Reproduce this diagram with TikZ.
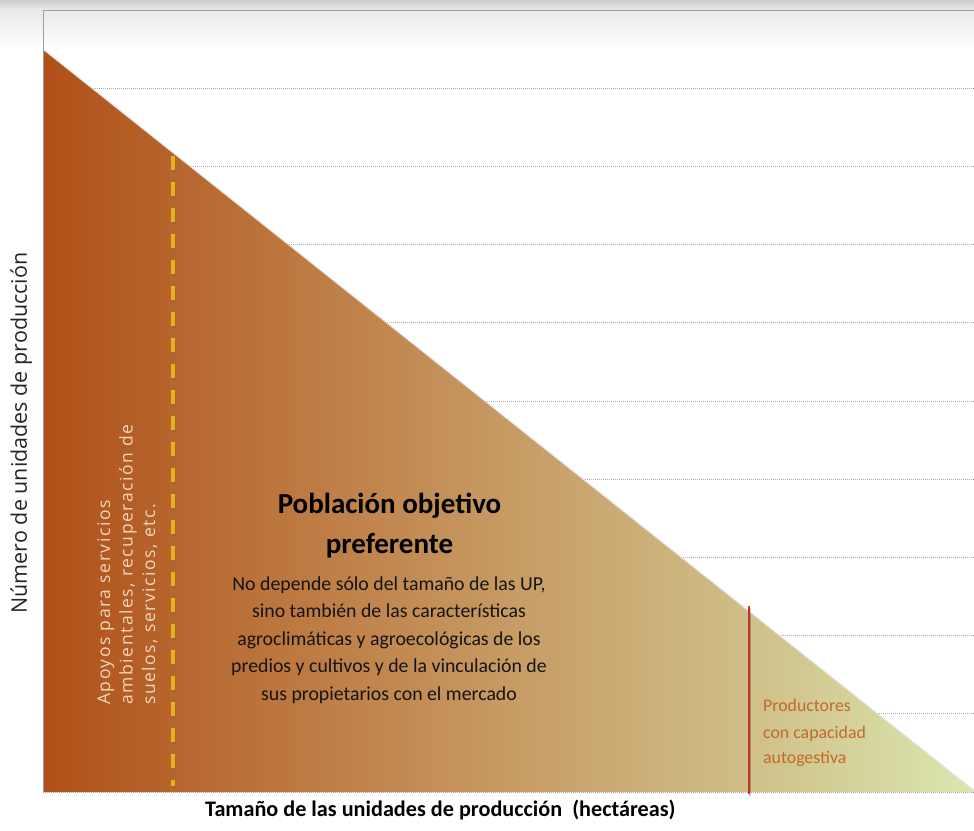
\documentclass[tikz,border=0pt]{standalone}
\usepackage{fontspec}
\setmainfont{Carlito}
\newfontfamily\osans{Open Sans}
\newfontfamily\osansls[LetterSpace=9]{Open Sans}
\usetikzlibrary{calc}
\definecolor{gA}{RGB}{175,80,24}
\definecolor{gB}{RGB}{188,118,62}
\definecolor{gC}{RGB}{199,155,100}
\definecolor{gD}{RGB}{207,190,135}
\definecolor{gE}{RGB}{218,232,176}
\definecolor{dashyel}{RGB}{234,176,24}
\definecolor{redline}{RGB}{200,50,40}
\definecolor{prodtxt}{RGB}{196,104,44}
\definecolor{creamtxt}{RGB}{240,214,186}
\pgfdeclarehorizontalshading{trishade}{100bp}{color(0bp)=(gA); color(25bp)=(gA); color(37.5bp)=(gB); color(50bp)=(gC); color(62.5bp)=(gD); color(75bp)=(gE); color(100bp)=(gE)}
\tikzset{
  grid line/.style={draw=gray!65, line width=0.8pt, dash pattern=on 1pt off 1pt},
  frame line/.style={draw=gray!75, line width=0.9pt},
  yeldash/.style={draw=dashyel, line width=3.2pt, dash pattern=on 14pt off 12pt},
  yelshadow/.style={draw=black!60, opacity=0.35, line width=3.2pt, dash pattern=on 14pt off 12pt},
  redbar/.style={draw=redline, line width=2.8pt},
  ylabel/.style={font=\osans\fontsize{21.5}{26}\selectfont, text=black!85, inner sep=0pt, rotate=90, anchor=base},
  apoyo/.style={font=\osansls\fontsize{17.5}{22}\selectfont, text=creamtxt, inner sep=0pt, rotate=90, anchor=base west},
  title/.style={font=\bfseries\fontsize{29}{34}\selectfont, text=black, inner sep=0pt, anchor=base},
  body/.style={font=\fontsize{19.8}{24}\selectfont, text=black!92, inner sep=0pt, anchor=base},
  prod/.style={font=\fontsize{17.8}{22}\selectfont, text=prodtxt, inner sep=0pt, anchor=base west},
  xlabel/.style={font=\bfseries\fontsize{22.2}{26}\selectfont, text=black, inner sep=0pt, anchor=base west},
}
\begin{document}
\begin{tikzpicture}[x=1pt,y=-1pt]
\useasboundingbox (0,0) rectangle (974,830);
\fill[white] (0,0) rectangle (974,830);
% top shadow band
\shade[top color=gray!22, bottom color=white] (0,0) rectangle (974,48);
\shade[top color=gray!40, bottom color=gray!20] (0,0) rectangle (974,8);
% grid lines
\foreach \k in {1,...,9} {
  \draw[grid line] (43,{10+78.2*\k}) -- (974,{10+78.2*\k});
}
% frame
\draw[frame line] (43,10) -- (974,10);
\draw[frame line] (43,10) -- (43,792);
% triangle
\coordinate (apex) at (44,50);
\coordinate (tipR) at (976,792);
\coordinate (corner) at (44,792);
\shade[shading=trishade] (apex) -- (tipR) -- (corner) -- cycle;
\draw[white!80!gray, line width=1pt] (apex) -- (tipR);
\draw[grid line] (43,792) -- (974,792);
% yellow dashed line
\coordinate (ytop) at (173,156);
\coordinate (ybot) at (173,786);
\draw[yelshadow] ($(ytop)+(1.2,1.6)$) -- ($(ybot)+(1.2,1.6)$);
\draw[yeldash] (ytop) -- (ybot);
% red line
\coordinate (rtop) at (749,606);
\coordinate (rbot) at (749,794);
\draw[draw=black, opacity=0.2, line width=2.8pt] ($(rtop)+(1,1.5)$) -- ($(rbot)+(1,1.5)$);
\draw[redbar] (rtop) -- (rbot);
% axis labels
\node[ylabel] (ylab) at (27,433) {Número de unidades de producción};
\node[xlabel] (xlab) at (205,816.7) {Tamaño de las unidades de producción\ \ (hectáreas)};
% apoyos text
\node[apoyo] (ap1) at (110,705) {Apoyos para servicios};
\node[apoyo] (ap2) at (132.5,705) {ambientales, recuperación de};
\node[apoyo] (ap3) at (155,705) {suelos, servicios, etc.};
% title and body
\node[title] (ti1) at (389.5,513) {Población objetivo};
\node[title] (ti2) at (389.5,553.3) {preferente};
\node[body] (b1) at (389,590) {No depende sólo del tamaño de las UP,};
\node[body] (b2) at (389,617.6) {sino también de las características};
\node[body] (b3) at (389,645.2) {agroclimáticas y agroecológicas de los};
\node[body] (b4) at (389,672.8) {predios y cultivos y de la vinculación de};
\node[body] (b5) at (389,700.4) {sus propietarios con el mercado};
% productores
\node[prod] (p1) at (763,711.7) {Productores};
\node[prod] (p2) at (763,738) {con capacidad};
\node[prod] (p3) at (763,763) {autogestiva};
\end{tikzpicture}
\end{document}
